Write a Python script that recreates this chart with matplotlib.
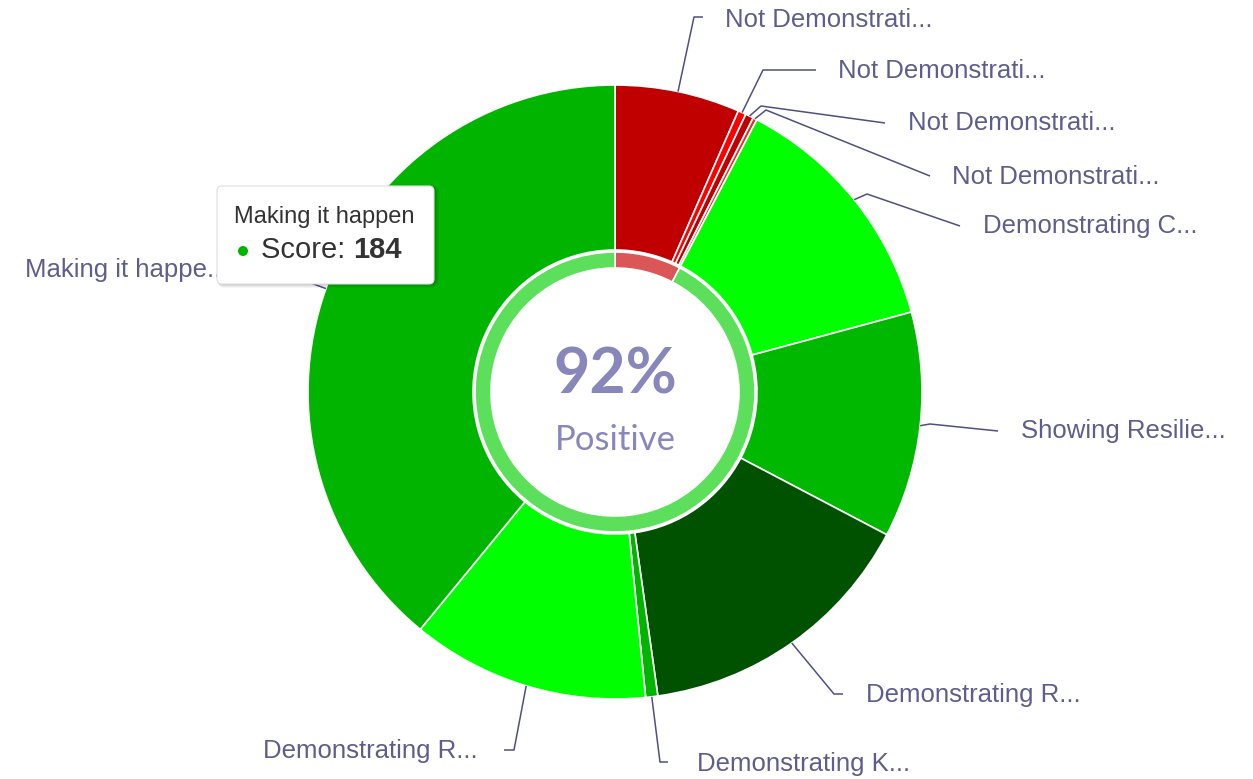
import matplotlib
matplotlib.use("Agg")
import matplotlib.pyplot as plt
from matplotlib.patches import FancyBboxPatch, Circle
import numpy as np

# slices, clockwise from 12 o'clock
labels = ["Not Demonstrati...", "Not Demonstrati...", "Not Demonstrati...",
          "Not Demonstrati...", "Demonstrating C...", "Showing Resilie...",
          "Demonstrating R...", "Demonstrating K...", "Demonstrating R...",
          "Making it happe..."]
scores = [31, 2, 2, 1, 62, 56, 71, 3, 59, 184]
colors = ["#c00000", "#ff0000", "#c00000", "#e03030", "#00ff00", "#00b800",
          "#005200", "#00b400", "#00ff00", "#00b400"]
negative = [True, True, True, True, False, False, False, False, False, False]

# label layout in pixels (elbow, line end, text anchor, alignment)
elbows = [(694, 17), (763, 70), (761, 106), (766, 110), (867, 194),
          (930, 424), (834, 694), (660, 762), (514, 750), (300, 279)]
ends = [(703, 17), (816, 70), (885, 123), (930, 176), (960, 226),
        (998, 431), (843, 694), (668, 762), (504, 750), (240, 271)]
text_pos = [(725, 20), (838, 71), (908, 123), (952, 177), (983, 226),
            (1021, 431), (866, 695), (697, 764), (478, 751), (228, 270)]
aligns = ["left"] * 8 + ["right", "right"]

W, H = 1253, 779
cx, cy = 615, 392
r_out, r_in = 307, 142


def px(x, y):
    return x, H - y


fig = plt.figure(figsize=(W / 100, H / 100), dpi=100)
ax = fig.add_axes([0, 0, 1, 1])

total = sum(scores)
ax.pie(scores, colors=colors, radius=r_out, center=px(cx, cy), startangle=90,
       counterclock=False,
       wedgeprops=dict(width=r_out - r_in, edgecolor="white", linewidth=1.2))

neg = sum(s for s, n in zip(scores, negative) if n)
pos = total - neg
ax.pie([neg, pos], colors=["#db5656", "#5ce05c"], radius=140,
       center=px(cx, cy), startangle=90, counterclock=False,
       wedgeprops=dict(width=16, edgecolor="white", linewidth=1.2))

ax.set_xlim(0, W)
ax.set_ylim(0, H)
ax.set_aspect("equal")
ax.axis("off")

# connectors and labels
line_c = "#4f4f80"
text_c = "#5e5e8c"
cum = np.cumsum([0] + scores)
for i, lab in enumerate(labels):
    mid = (cum[i] + cum[i + 1]) / 2 / total * 2 * np.pi
    ax0 = cx + r_out * np.sin(mid)
    ay0 = cy - r_out * np.cos(mid)
    xs = [ax0, elbows[i][0], ends[i][0]]
    ys = [H - ay0, H - elbows[i][1], H - ends[i][1]]
    ax.plot(xs, ys, color=line_c, lw=1.1, solid_capstyle="butt", zorder=3)
    tx, ty = px(*text_pos[i])
    ax.text(tx, ty, lab, ha=aligns[i], va="center", fontsize=18.5,
            color=text_c, family="Liberation Sans", zorder=4)

# centre text
ax.text(*px(cx, 375), f"{round(pos / total * 100)}%", ha="center",
        va="center", fontsize=45, fontweight="bold", color="#8787bb",
        family="Lato")
ax.text(*px(cx, 440), "Positive", ha="center", va="center", fontsize=25,
        color="#8787bb", family="Lato")

# tooltip with a soft shadow
for k, a in [(4, 0.04), (3, 0.05), (2, 0.06), (1, 0.07)]:
    ax.add_patch(FancyBboxPatch((217 + 1, H - 284 - k), 217 + k, 98 + k,
                                boxstyle="round,pad=0,rounding_size=6",
                                fc="#000000", ec="none", alpha=a, zorder=5))
tip = FancyBboxPatch((217, H - 284), 217, 98,
                     boxstyle="round,pad=0,rounding_size=5",
                     fc="white", ec="#dddddd", lw=0.8, zorder=6)
ax.add_patch(tip)
ax.text(*px(234, 217), "Making it happen", ha="left", va="center",
        fontsize=17, color="#333333", family="Liberation Sans", zorder=7)
ax.add_patch(Circle(px(243, 251), 5, fc="#00b400", ec="none", zorder=7))
t = ax.text(*px(261, 250), "Score: ", ha="left", va="center", fontsize=21,
            color="#333333", family="Liberation Sans", zorder=7)
fig.canvas.draw()
bb = t.get_window_extent()
ax.text(bb.x1, H - 250, "184", ha="left", va="center", fontsize=21,
        fontweight="bold", color="#333333", family="Liberation Sans",
        zorder=7)

fig.savefig("out.png", dpi=100)
